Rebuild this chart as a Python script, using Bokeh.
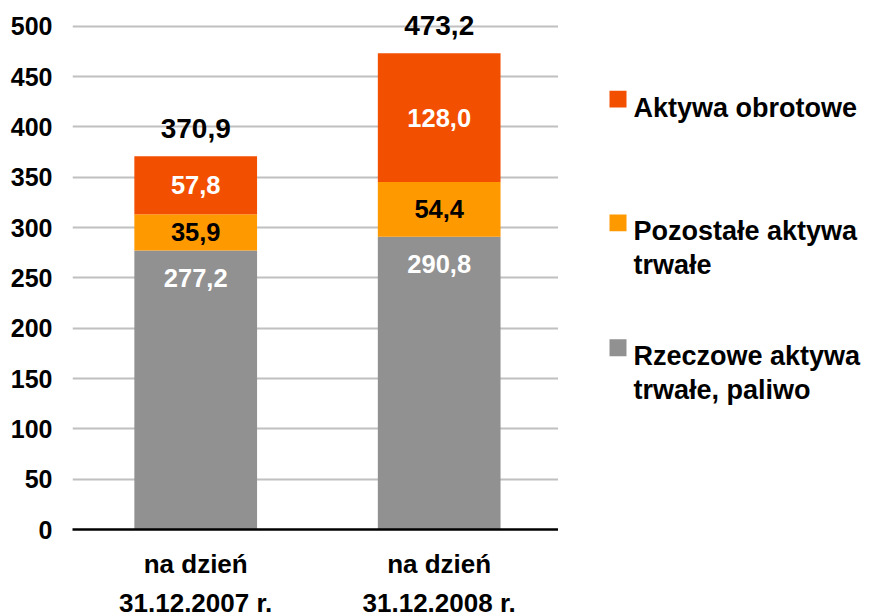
from bokeh.plotting import figure
from bokeh.models import Range1d, FixedTicker, ColumnDataSource
from bokeh.layouts import row
from bokeh.embed import file_html
from bokeh.resources import INLINE
from bokeh.core.properties import value

# ---- data ----
categories = ["na dzień\n31.12.2007 r.", "na dzień\n31.12.2008 r."]
rzeczowe = [277.2, 290.8]
pozostale = [35.9, 54.4]
obrotowe = [57.8, 128.0]
totals = [370.9, 473.2]
y_ticks = [0, 50, 100, 150, 200, 250, 300, 350, 400, 450, 500]
legend_labels = ["Aktywa obrotowe", "Pozostałe aktywa\ntrwałe", "Rzeczowe aktywa\ntrwałe, paliwo"]

# ---- styles ----
FONT = "Liberation Sans"
c_gray = "#919191"
c_orange = "#FF9900"
c_red = "#F24F00"

xs = list(range(len(categories)))
src = ColumnDataSource(dict(x=xs, rzeczowe=rzeczowe, pozostale=pozostale, obrotowe=obrotowe))

p = figure(frame_width=486, frame_height=521,
           x_range=Range1d(-0.506, 1.49), y_range=Range1d(0, 517.6),
           output_backend="svg", toolbar_location=None,
           min_border_left=72, min_border_right=0, min_border_top=8, min_border_bottom=86)
p.outline_line_color = None
p.background_fill_color = "white"
p.border_fill_color = "white"

p.vbar_stack(["rzeczowe", "pozostale", "obrotowe"], x="x", width=0.504,
             color=[c_gray, c_orange, c_red], line_color=None, source=src)

# segment labels
def fmt(v):
    return f"{v:.1f}".replace(".", ",")

lab_x, lab_y, lab_t, lab_c = [], [], [], []
for i in xs:
    b0 = rzeczowe[i]
    b1 = b0 + pozostale[i]
    b2 = b1 + obrotowe[i]
    lab_x += [i, i, i]
    lab_y += [b0 - 27, (b0 + b1) / 2, (b1 + b2) / 2]
    lab_t += [fmt(rzeczowe[i]), fmt(pozostale[i]), fmt(obrotowe[i])]
    lab_c += ["white", "black", "white"]
p.text(x=lab_x, y=lab_y, text=lab_t, text_color=lab_c,
       text_font=value(FONT), text_font_style="bold", text_font_size="25.5px",
       text_align="center", text_baseline="middle")

# totals
p.text(x=xs, y=[t + 27.5 for t in totals], text=[fmt(t) for t in totals],
       text_color="black", text_font=value(FONT), text_font_style="bold",
       text_font_size="28px", text_align="center", text_baseline="middle")

# axes
p.yaxis.ticker = FixedTicker(ticks=y_ticks)
p.yaxis.axis_line_color = None
p.yaxis.major_tick_line_color = None
p.yaxis.minor_tick_line_color = None
p.yaxis.major_tick_out = 0
p.yaxis.major_label_standoff = 20
p.yaxis.major_label_text_font = FONT
p.yaxis.major_label_text_font_style = "bold"
p.yaxis.major_label_text_font_size = "25px"
p.yaxis.major_label_text_color = "black"

p.xaxis.ticker = FixedTicker(ticks=xs)
p.xaxis.major_label_overrides = {i: categories[i] for i in xs}
p.xaxis.axis_line_color = "black"
p.xaxis.axis_line_width = 2.5
p.xaxis.major_tick_line_color = None
p.xaxis.minor_tick_line_color = None
p.xaxis.major_tick_out = 0
p.xaxis.major_label_standoff = 19
p.xaxis.major_label_text_font = FONT
p.xaxis.major_label_text_font_style = "bold"
p.xaxis.major_label_text_font_size = "26px"
p.xaxis.major_label_text_line_height = 1.3
p.xaxis.major_label_text_color = "black"

p.xgrid.grid_line_color = None
p.ygrid.grid_line_color = "#C0C0C0"
p.ygrid.grid_line_width = 2

# ---- legend panel (frame is aligned with the chart frame: page y 8..529) ----
lg = figure(width=312, height=615, x_range=Range1d(0, 312), y_range=Range1d(529, 8),
            output_backend="svg", toolbar_location=None,
            min_border_left=0, min_border_right=0, min_border_top=8, min_border_bottom=86)
lg.axis.visible = False
lg.grid.visible = False
lg.outline_line_color = None

leg_colors = [c_red, c_orange, c_gray]
baselines = [108, 233, 359]
sq_l, sq_r, sq_t, sq_b = [], [], [], []
tx, ty, tt = [], [], []
for lab, col, bl in zip(legend_labels, leg_colors, baselines):
    sq_l.append(51); sq_r.append(68); sq_t.append(bl - 17); sq_b.append(bl)
    for k, line in enumerate(lab.split("\n")):
        tx.append(75); ty.append(bl + 34 * k); tt.append(line)
lg.quad(left=sq_l, right=sq_r, top=sq_t, bottom=sq_b, color=leg_colors, line_color=None)
lg.text(x=tx, y=ty, text=tt, text_color="black", text_font=value(FONT),
        text_font_style="bold", text_font_size="27px",
        text_align="left", text_baseline="alphabetic")

layout = row(p, lg)
open("out.html", "w").write(file_html(layout, INLINE))
